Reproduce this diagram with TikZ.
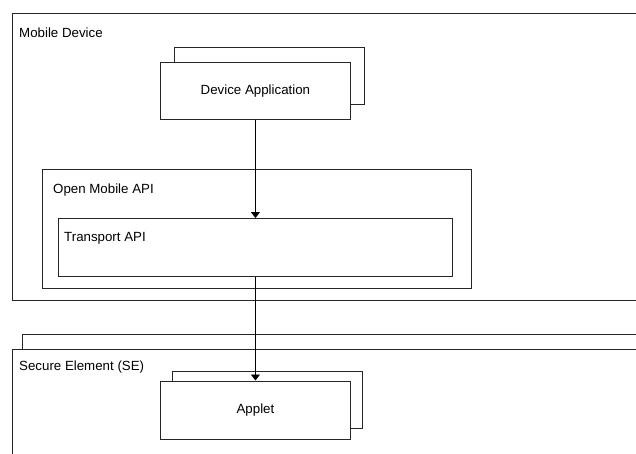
\documentclass[tikz,border=0pt]{standalone}
\usepackage{fontspec}
\setmainfont{Liberation Sans}
\usetikzlibrary{positioning,arrows.meta}

\begin{document}
\begin{tikzpicture}[x=1pt, y=-1pt, font=\fontsize{13.3}{16}\selectfont,
    box/.style={draw=black!85, fill=white, line width=0.9pt, inner sep=0pt},
    lbl/.style={inner sep=0pt, anchor=base west}]
    \useasboundingbox (0,0) rectangle (636,453);
    \clip (0,0) rectangle (636,453);

    % outer containers
    \node [box, anchor=north west, minimum width=640pt, minimum height=287pt] (device) at (12,13) {};
    \node [lbl] (device_lbl) at ([xshift=7pt, yshift=-24pt]device.north west) {Mobile Device};

    \node [box, anchor=north west, minimum width=640pt, minimum height=200pt] (se_back) at (22,334) {};
    \node [box, anchor=north west, minimum width=640pt, minimum height=200pt] (se) at (12,349) {};
    \node [lbl] (se_lbl) at ([xshift=7pt, yshift=-21pt]se.north west) {Secure Element (SE)};

    % device application
    \node [box, anchor=north west, minimum width=190pt, minimum height=57pt] (app_back) at (174,47) {};
    \node [box, minimum width=190pt, minimum height=57pt] (app) at ([xshift=-14pt, yshift=-15pt]app_back.center) {Device Application};

    % open mobile api
    \node [box, anchor=north west, minimum width=429pt, minimum height=119pt] (omapi) at (42,169) {};
    \node [lbl] (omapi_lbl) at ([xshift=11pt, yshift=-24pt]omapi.north west) {Open Mobile API};
    \node [box, anchor=north west, minimum width=394pt, minimum height=58pt] (transport) at (58,218) {};
    \node [lbl] (transport_lbl) at ([xshift=6pt, yshift=-23pt]transport.north west) {Transport API};

    % applet
    \node [box, anchor=north west, minimum width=190pt, minimum height=57pt] (applet_back) at (172,371) {};
    \node [box, minimum width=190pt, minimum height=58pt] (applet) at ([xshift=-12pt, yshift=-10pt]applet_back.center) {Applet};

    \draw[-{Triangle[width=9pt, length=6pt]}, line width=0.9pt] (app) -- (transport);
    \draw[-{Triangle[width=9pt, length=6pt]}, line width=0.9pt] (transport) -- (applet);

\end{tikzpicture}
\end{document}
